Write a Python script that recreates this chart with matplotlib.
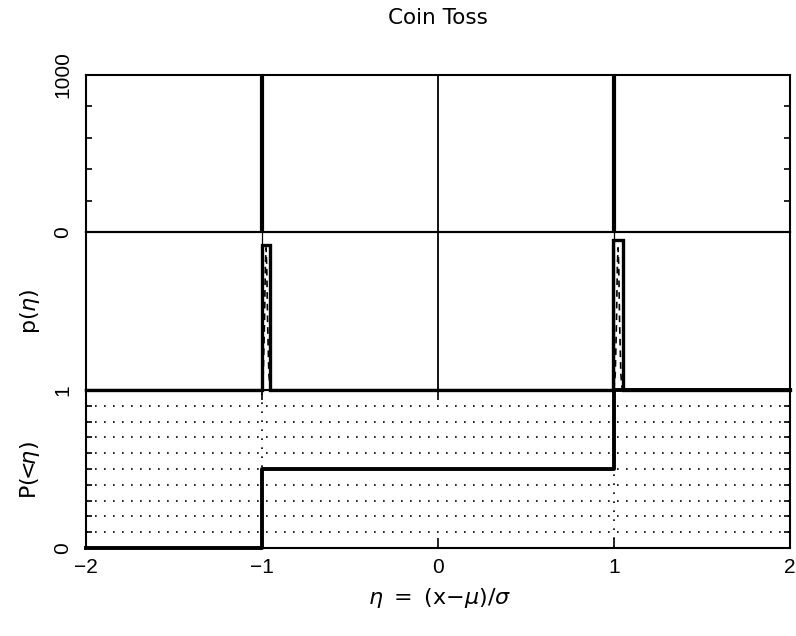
import matplotlib
matplotlib.use("Agg")
import matplotlib.pyplot as plt
import numpy as np

# ---- data ----
x_limits = [-2, 2]
x_ticks = [-2, -1, 0, 1, 2]
x_tick_labels = ["\u22122", "\u22121", "0", "1", "2"]

# outcomes of the coin toss in eta units
outcomes = [-1.0, 1.0]
mean_eta = 0.0

# top panel: counts (spikes exceed the 1000 scale)
top_counts = [4000, 4000]
top_ylim = [0, 1000]
top_minor = [200, 400, 600, 800]

# middle panel: histogram bins (normalized)
bin_left = [-1.0, 0.997]
bin_right = [-0.955, 1.05]
bin_height = [0.92, 0.95]

# dashed model curves around each peak
model_center = [-0.977, 1.023]
model_dx = [-0.024, -0.016, -0.009, -0.004, 0.0, 0.004, 0.009, 0.016, 0.024]
model_y = [0.0, 0.10, 0.42, 0.78, 0.90, 0.78, 0.42, 0.10, 0.0]

# bottom panel: cumulative distribution
cdf_x = [-2, -1, 1, 2]
cdf_y = [0.0, 0.5, 1.0, 1.0]
cdf_grid = [0.1, 0.2, 0.3, 0.4, 0.5, 0.6, 0.7, 0.8, 0.9]

plt.rcParams['mathtext.fontset'] = 'dejavusans'
TICKFONT = dict(family='Liberation Sans', size=15)

fig = plt.figure(figsize=(7.96, 6.36), dpi=100)
L, W = 86 / 796, (790 - 86) / 796
def ypos(top_px, bot_px):
    return [L, 1 - bot_px / 636, W, (bot_px - top_px) / 636]

ax_top = fig.add_axes(ypos(75, 232))
ax_mid = fig.add_axes(ypos(232, 390))
ax_bot = fig.add_axes(ypos(390, 548))
ax_bot.patch.set_visible(False)
ax_mid.set_zorder(3)
ax_mid.patch.set_visible(False)

for ax in (ax_top, ax_mid, ax_bot):
    ax.set_xlim(*x_limits)
    for s in ax.spines.values():
        s.set_linewidth(1.5)
    ax.tick_params(which='both', direction='in', width=1.2, colors='black')

dots = (0, (1, 4.4))

# ---- top panel ----
ax_top.set_ylim(*top_ylim)
for xo, c in zip(outcomes, top_counts):
    ax_top.vlines(xo, 0, c, color='black', lw=3.0)
ax_top.axvline(mean_eta, color='black', lw=1.3)
ax_top.set_xticks([])
ax_top.set_yticks(top_ylim)
ax_top.set_yticklabels([str(v) for v in top_ylim], rotation=90, va='center', **TICKFONT)
ax_top.set_yticks(top_minor, minor=True)
ax_top.tick_params(axis='y', which='both', left=True, right=True, length=4)
ax_top.tick_params(axis='y', which='major', length=0, pad=10)

# ---- middle panel ----
ax_mid.set_ylim(0, 1)
hx, hy = [x_limits[0]], [0.0]
for l, r, h in zip(bin_left, bin_right, bin_height):
    hx += [l, l, r, r]
    hy += [0.0, h, h, 0.0]
hx.append(x_limits[1]); hy.append(0.0)
ax_mid.plot(hx, hy, color='black', lw=2.4, solid_joinstyle='miter', clip_on=False, zorder=4)
for c in model_center:
    ax_mid.plot(np.array(model_dx) + c, model_y, color='black', lw=1.2, ls=(0, (4, 3)), zorder=3)
for xo in outcomes:
    ax_mid.axvline(xo, color='black', lw=0.9)
ax_mid.axvline(mean_eta, color='black', lw=1.3)
ax_mid.set_xticks([])
ax_mid.set_yticks([])

# ---- bottom panel ----
ax_bot.set_ylim(0, 1)
for g in cdf_grid:
    ax_bot.axhline(g, color='black', lw=1.2, ls=dots)
for xo in outcomes:
    ax_bot.axvline(xo, color='black', lw=1.2, ls=dots)
ax_bot.step(cdf_x, cdf_y, where='post', color='black', lw=2.8, clip_on=False, zorder=5)
ax_bot.set_xticks(x_ticks)
ax_bot.set_xticklabels(x_tick_labels, **TICKFONT)
ax_bot.tick_params(axis='x', which='major', top=True, bottom=True, length=7, pad=7)
ax_bot.set_yticks([0, 1])
ax_bot.set_yticklabels(["0", "1"], rotation=90, va='center', **TICKFONT)
ax_bot.set_yticks(cdf_grid, minor=True)
ax_bot.tick_params(axis='y', which='minor', left=True, right=True, length=4)
ax_bot.tick_params(axis='y', which='major', length=0, pad=10)

# ---- labels ----
fig.text(438 / 796, 1 - 18 / 636, "Coin Toss", ha='center', va='center',
         family='DejaVu Sans', size=15.5)
fig.text(440 / 796, 1 - 598 / 636, r'$\eta\ =\ (\mathrm{x}{-}\mu)/\sigma$',
         ha='center', va='center', size=16)
fig.text(30 / 796, 1 - 311 / 636, r'$\mathrm{p(}\eta\mathrm{)}$', rotation=90,
         ha='center', va='center', size=16)
fig.text(30 / 796, 1 - 470 / 636, r'$\mathrm{P(}\!\!<\!\!\eta\mathrm{)}$', rotation=90,
         ha='center', va='center', size=16)

fig.savefig("out.png", dpi=100)
